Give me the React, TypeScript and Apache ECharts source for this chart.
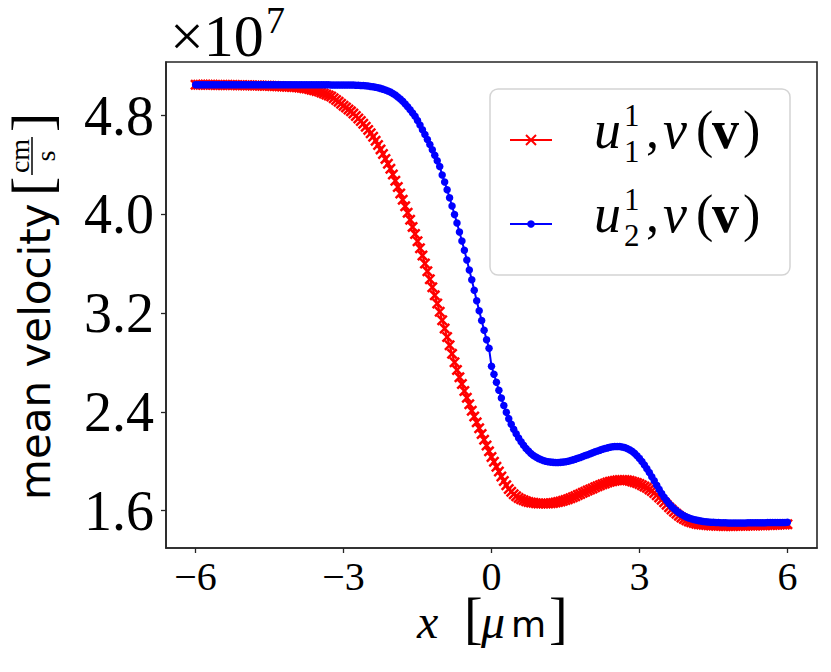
import React, { useEffect, useRef } from "react";
import * as echarts from "echarts";

// x grid of the samples (µm)
const X_START = -6;
const X_STEP = 0.05;

// u_1^1, nu(v)  (×1e7 cm/s), x = -6 .. 6 step 0.05
const u1Values = [
  5.050, 5.050, 5.050, 5.050, 5.050, 5.050, 5.050, 5.050, 5.049, 5.049,
  5.049, 5.049, 5.049, 5.048, 5.048, 5.048, 5.048, 5.047, 5.047, 5.047,
  5.047, 5.046, 5.046, 5.045, 5.045, 5.044, 5.044, 5.043, 5.043, 5.043,
  5.042, 5.041, 5.040, 5.039, 5.038, 5.037, 5.036, 5.035, 5.034, 5.033,
  5.032, 5.030, 5.028, 5.026, 5.023, 5.020, 5.016, 5.011, 5.006, 5.001,
  4.995, 4.988, 4.980, 4.972, 4.964, 4.955, 4.942, 4.928, 4.913, 4.897,
  4.880, 4.866, 4.851, 4.835, 4.817, 4.798, 4.778, 4.757, 4.734, 4.710,
  4.685, 4.658, 4.629, 4.597, 4.563, 4.527, 4.489, 4.450, 4.410, 4.370,
  4.323, 4.273, 4.222, 4.170, 4.118, 4.066, 4.014, 3.957, 3.899, 3.841,
  3.783, 3.725, 3.667, 3.603, 3.539, 3.474, 3.409, 3.344, 3.279, 3.211,
  3.143, 3.075, 3.007, 2.939, 2.870, 2.803, 2.740, 2.681, 2.625, 2.570,
  2.515, 2.462, 2.410, 2.362, 2.315, 2.268, 2.221, 2.174, 2.127, 2.080,
  2.035, 1.995, 1.955, 1.916, 1.877, 1.840, 1.805, 1.775, 1.752, 1.733,
  1.716, 1.703, 1.692, 1.683, 1.676, 1.670, 1.666, 1.663, 1.660, 1.658,
  1.657, 1.657, 1.657, 1.658, 1.660, 1.662, 1.665, 1.669, 1.674, 1.680,
  1.686, 1.693, 1.701, 1.709, 1.717, 1.726, 1.735, 1.744, 1.753, 1.762,
  1.771, 1.780, 1.789, 1.797, 1.805, 1.813, 1.820, 1.827, 1.833, 1.838,
  1.842, 1.845, 1.847, 1.848, 1.847, 1.845, 1.841, 1.836, 1.830, 1.823,
  1.815, 1.806, 1.796, 1.785, 1.772, 1.758, 1.742, 1.725, 1.707, 1.688,
  1.668, 1.648, 1.628, 1.609, 1.591, 1.574, 1.558, 1.544, 1.532, 1.521,
  1.512, 1.505, 1.499, 1.494, 1.490, 1.487, 1.485, 1.483, 1.481, 1.480,
  1.479, 1.478, 1.477, 1.477, 1.476, 1.476, 1.476, 1.476, 1.476, 1.477,
  1.477, 1.477, 1.478, 1.478, 1.479, 1.479, 1.480, 1.480, 1.481, 1.481,
  1.482, 1.482, 1.483, 1.484, 1.484, 1.485, 1.486, 1.487, 1.487, 1.488,
  1.489,
];

// u_2^1, nu(v)  (×1e7 cm/s), x = -6 .. 6 step 0.05
const u2Values = [
  5.050, 5.050, 5.050, 5.050, 5.050, 5.050, 5.050, 5.050, 5.050, 5.050,
  5.050, 5.050, 5.050, 5.050, 5.050, 5.050, 5.050, 5.050, 5.050, 5.050,
  5.050, 5.050, 5.050, 5.050, 5.050, 5.050, 5.050, 5.050, 5.050, 5.050,
  5.050, 5.050, 5.050, 5.050, 5.050, 5.050, 5.050, 5.050, 5.050, 5.050,
  5.050, 5.050, 5.050, 5.050, 5.050, 5.050, 5.050, 5.050, 5.050, 5.050,
  5.050, 5.050, 5.050, 5.050, 5.050, 5.049, 5.049, 5.049, 5.049, 5.048,
  5.048, 5.048, 5.048, 5.048, 5.048, 5.047, 5.046, 5.045, 5.044, 5.042,
  5.040, 5.037, 5.034, 5.030, 5.026, 5.021, 5.015, 5.008, 5.000, 4.991,
  4.980, 4.967, 4.952, 4.935, 4.916, 4.895, 4.872, 4.848, 4.822, 4.795,
  4.760, 4.724, 4.686, 4.647, 4.607, 4.566, 4.523, 4.479, 4.434, 4.388,
  4.320, 4.262, 4.200, 4.135, 4.068, 4.000, 3.930, 3.858, 3.785, 3.710,
  3.630, 3.550, 3.470, 3.385, 3.300, 3.220, 3.140, 3.062, 2.985, 2.915,
  2.770, 2.705, 2.640, 2.575, 2.512, 2.452, 2.396, 2.345, 2.300, 2.259,
  2.222, 2.188, 2.157, 2.129, 2.104, 2.082, 2.063, 2.047, 2.034, 2.023,
  2.014, 2.006, 2.000, 1.996, 1.993, 1.991, 1.990, 1.990, 1.991, 1.993,
  1.996, 2.000, 2.005, 2.011, 2.017, 2.024, 2.031, 2.038, 2.046, 2.053,
  2.061, 2.068, 2.076, 2.083, 2.090, 2.097, 2.103, 2.108, 2.113, 2.117,
  2.119, 2.120, 2.119, 2.116, 2.111, 2.103, 2.093, 2.080, 2.064, 2.045,
  2.023, 1.998, 1.970, 1.940, 1.908, 1.875, 1.841, 1.806, 1.772, 1.739,
  1.708, 1.681, 1.656, 1.634, 1.615, 1.598, 1.583, 1.570, 1.559, 1.549,
  1.541, 1.534, 1.528, 1.523, 1.519, 1.515, 1.512, 1.510, 1.508, 1.506,
  1.505, 1.504, 1.503, 1.502, 1.501, 1.501, 1.500, 1.500, 1.500, 1.500,
  1.500, 1.500, 1.500, 1.500, 1.501, 1.501, 1.501, 1.501, 1.502, 1.502,
  1.502, 1.502, 1.503, 1.503, 1.503, 1.503, 1.504, 1.504, 1.504, 1.504,
  1.505,
];

const xTicks = [-6, -3, 0, 3, 6];
const yTicks = [1.6, 2.4, 3.2, 4.0, 4.8];
const legendSubs = ["1", "2"];
const legendSup = "1";

const SERIF = '"Liberation Serif", "DejaVu Serif", serif';
const SANS = '"DejaVu Sans", "Noto Sans", sans-serif';
const CROSS =
  "path://M0,1.6L1.6,0L5,3.4L8.4,0L10,1.6L6.6,5L10,8.4L8.4,10L5,6.6L1.6,10L0,8.4L3.4,5Z";

function txt(
  text: string,
  x: number,
  y: number,
  size: number,
  opts: { family?: string; style?: string; weight?: string; align?: string } = {}
) {
  const align = opts.align || "left";
  return {
    type: "text",
    x,
    y,
    z: 110,
    style: {
      text,
      fontSize: size,
      fontFamily: opts.family || SERIF,
      fontStyle: opts.style || "normal",
      fontWeight: opts.weight || "normal",
      fill: "#000",
      align,
      textAlign: align,
      verticalAlign: "middle",
      textVerticalAlign: "middle",
    },
  };
}

function legendLabel(baseline: number, sub: string) {
  const c = baseline - 17.5;
  return [
    txt("u", 594, c, 54, { style: "italic" }),
    txt(legendSup, 624, baseline - 32, 31),
    txt(sub, 624, baseline + 4, 31),
    txt(",", 646, c, 52),
    txt("ν", 663, c, 54, { style: "italic" }),
    txt("(", 696, c, 52),
    txt("v", 712, c, 54, { weight: "bold" }),
    txt(")", 743, c, 52),
  ];
}

export default function App() {
  const ref = useRef<HTMLDivElement>(null);

  useEffect(() => {
    if (!ref.current) return;
    const chart = echarts.init(ref.current, null, { renderer: "svg" });
    const xs = u1Values.map((_, i) => +(X_START + i * X_STEP).toFixed(2));
    const d1 = xs.map((x, i) => [x, u1Values[i]]);
    const d2 = xs.map((x, i) => [x, u2Values[i]]);
    const axisColor = "#262626";

    const yLabel = {
      type: "group",
      x: 35,
      y: 500,
      rotation: Math.PI / 2,
      z: 110,
      children: [
        txt("mean velocity", 0, 0, 42, { family: SANS }),
        txt("[", 304, -4, 58),
        txt("cm", 344, -16, 28, { align: "center" }),
        {
          type: "line",
          z: 110,
          shape: { x1: 325, y1: -3, x2: 363, y2: -3 },
          style: { stroke: "#000", lineWidth: 1.5 },
        },
        txt("s", 344, 10, 28, { align: "center" }),
        txt("]", 368, -4, 58),
      ],
    };

    const legend = [
      {
        type: "rect",
        z: 100,
        shape: { x: 490, y: 89, width: 300, height: 186, r: 8 },
        style: { fill: "rgba(255,255,255,0.85)", stroke: "#d4d4d4", lineWidth: 1.5 },
      },
      {
        type: "line",
        z: 105,
        shape: { x1: 510, y1: 140, x2: 552, y2: 140 },
        style: { stroke: "#ff0000", lineWidth: 2.2 },
      },
      {
        type: "line",
        z: 105,
        shape: { x1: 526, y1: 135, x2: 536, y2: 145 },
        style: { stroke: "#ff0000", lineWidth: 2 },
      },
      {
        type: "line",
        z: 105,
        shape: { x1: 526, y1: 145, x2: 536, y2: 135 },
        style: { stroke: "#ff0000", lineWidth: 2 },
      },
      {
        type: "line",
        z: 105,
        shape: { x1: 510, y1: 224, x2: 552, y2: 224 },
        style: { stroke: "#0000ff", lineWidth: 2.2 },
      },
      {
        type: "circle",
        z: 105,
        shape: { cx: 531, cy: 224, r: 3.8 },
        style: { fill: "#0000ff" },
      },
      ...legendLabel(147, legendSubs[0]),
      ...legendLabel(231, legendSubs[1]),
    ];

    const xName = [
      txt("x", 417, 621, 48, { style: "italic" }),
      txt("[", 464, 618, 56),
      txt("μ", 481, 621, 48, { style: "italic" }),
      txt("m", 511, 624, 36, { family: SANS }),
      txt("]", 549, 618, 56),
    ];

    const offsetText = [txt("×10", 170, 36, 60), txt("7", 266, 20, 38)];

    chart.setOption({
      animation: false,
      backgroundColor: "#fff",
      grid: {
        left: 166,
        right: 14,
        top: 62,
        bottom: 124,
        show: true,
        borderColor: axisColor,
        borderWidth: 1.6,
        backgroundColor: "transparent",
        z: 3,
      },
      xAxis: {
        type: "value",
        min: -6.6,
        max: 6.6,
        axisLine: { show: true, onZero: false, lineStyle: { color: axisColor, width: 1.6 } },
        axisTick: {
          show: true,
          inside: false,
          length: 5,
          customValues: xTicks,
          lineStyle: { color: axisColor, width: 1.3 },
        },
        axisLabel: {
          customValues: xTicks,
          formatter: (v: number) => (v < 0 ? "\u2212" + Math.abs(v) : String(v)),
          fontSize: 40,
          fontFamily: SERIF,
          color: "#000",
          margin: 8,
        },
        splitLine: { show: false },
      },
      yAxis: {
        type: "value",
        min: 1.297,
        max: 5.235,
        axisLine: { show: true, onZero: false, lineStyle: { color: axisColor, width: 1.6 } },
        axisTick: {
          show: true,
          inside: false,
          length: 5,
          customValues: yTicks,
          lineStyle: { color: axisColor, width: 1.3 },
        },
        axisLabel: {
          customValues: yTicks,
          formatter: (v: number) => v.toFixed(1),
          fontSize: 56,
          fontFamily: SERIF,
          color: "#000",
          margin: 12,
        },
        splitLine: { show: false },
      },
      series: [
        {
          name: "u11",
          type: "line",
          data: d1,
          showAllSymbol: true,
          symbol: CROSS,
          symbolSize: 11,
          itemStyle: { color: "#ff0000" },
          lineStyle: { color: "#ff0000", width: 2 },
          z: 2,
        },
        {
          name: "u21",
          type: "line",
          data: d2,
          showAllSymbol: true,
          symbol: "circle",
          symbolSize: 7.5,
          itemStyle: { color: "#0000ff" },
          lineStyle: { color: "#0000ff", width: 2 },
          z: 2,
        },
      ],
      graphic: [yLabel, ...legend, ...xName, ...offsetText],
    });
    return () => chart.dispose();
  }, []);

  return (
    <div
      ref={ref}
      style={{ position: "absolute", left: 0, top: 0, width: 831, height: 672 }}
    />
  );
}
